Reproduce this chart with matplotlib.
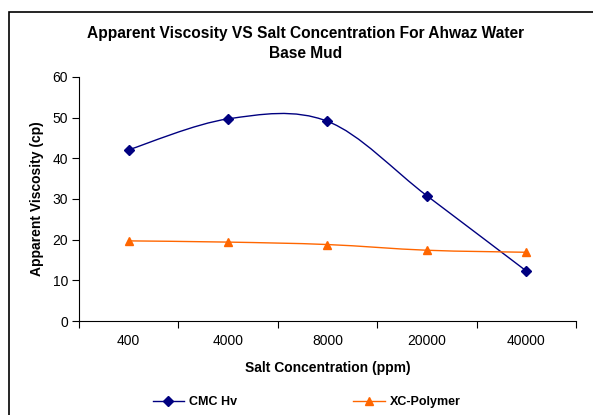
import numpy as np
import matplotlib.pyplot as plt
from matplotlib.path import Path
from matplotlib.patches import PathPatch, Rectangle
from matplotlib.lines import Line2D

plt.rcParams['font.family'] = ['Liberation Sans', 'DejaVu Sans']

# Data
salt_ppm = ['400', '4000', '8000', '20000', '40000']
cmc_hv = [42.1, 49.7, 49.1, 30.8, 12.3]
xc_polymer = [19.7, 19.4, 18.8, 17.4, 16.9]

navy = '#000080'
orange = '#FF6600'


def smooth_path(x, y, t=1 / 6):
    # Excel-like smoothed line: cubic bezier segments through every point
    pts = np.column_stack([x, y]).astype(float)
    verts = [pts[0]]
    codes = [Path.MOVETO]
    n = len(pts)
    for i in range(n - 1):
        p0 = pts[max(i - 1, 0)]
        p1 = pts[i]
        p2 = pts[i + 1]
        p3 = pts[min(i + 2, n - 1)]
        c1 = p1 + (p2 - p0) * t
        c2 = p2 - (p3 - p1) * t
        verts += [c1, c2, p2]
        codes += [Path.CURVE4] * 3
    return Path(verts, codes)


fig = plt.figure(figsize=(5.93, 4.15), dpi=100)
ax = fig.add_axes([0.1332, 0.2265, 0.8381, 0.588])

x = np.arange(len(salt_ppm))
for vals, col, mk, ms in [(cmc_hv, navy, 'D', 5), (xc_polymer, orange, '^', 6)]:
    ax.add_patch(PathPatch(smooth_path(x, vals), facecolor='none', edgecolor=col, lw=1.0, zorder=2))
    ax.plot(x, vals, linestyle='none', marker=mk, color=col, markersize=ms, zorder=3)

ax.set_xlim(-0.5, len(salt_ppm) - 0.5)
ax.set_ylim(0, 60)
ax.set_yticks(range(0, 61, 10))
ax.set_xticks(np.arange(-0.5, len(salt_ppm)), labels=[''] * (len(salt_ppm) + 1))
ax.set_xticks(x, labels=salt_ppm, minor=True)
ax.tick_params(axis='x', which='minor', length=0, pad=9.5, labelsize=10)
ax.tick_params(axis='x', which='major', length=5, direction='out', width=0.8)
ax.tick_params(axis='y', length=5, direction='out', width=0.8, labelsize=10, pad=3)
for s in ['top', 'right']:
    ax.spines[s].set_visible(False)
for s in ['left', 'bottom']:
    ax.spines[s].set_linewidth(0.8)

ax.set_xlabel('Salt Concentration (ppm)', fontsize=10, fontweight='bold', labelpad=9.5)
ax.set_ylabel('Apparent Viscosity (cp)', fontsize=10, fontweight='bold', labelpad=6)

fig.text(0.515, 0.895, 'Apparent Viscosity VS Salt Concentration For Ahwaz Water\nBase Mud',
         ha='center', va='center', fontsize=11.2, fontweight='bold', linespacing=1.45)

handles = [Line2D([], [], color=navy, marker='D', markersize=5, lw=1.0),
           Line2D([], [], color=orange, marker='^', markersize=6, lw=1.0)]
fig.legend(handles, ['CMC Hv', 'XC-Polymer'], loc='center', bbox_to_anchor=(0.517, 0.031),
           ncol=2, frameon=False, handlelength=2.5, handletextpad=0.4, columnspacing=9.3,
           prop={'weight': 'bold', 'size': 9})

# Chart area border (cropped on the right and bottom in the reference)
fig.patches.append(Rectangle((9 / 593, -0.05), 1.0, 1 - 12 / 415 + 0.05, transform=fig.transFigure,
                             fill=False, edgecolor='black', lw=1.2))

fig.savefig('out.png', dpi=100)
